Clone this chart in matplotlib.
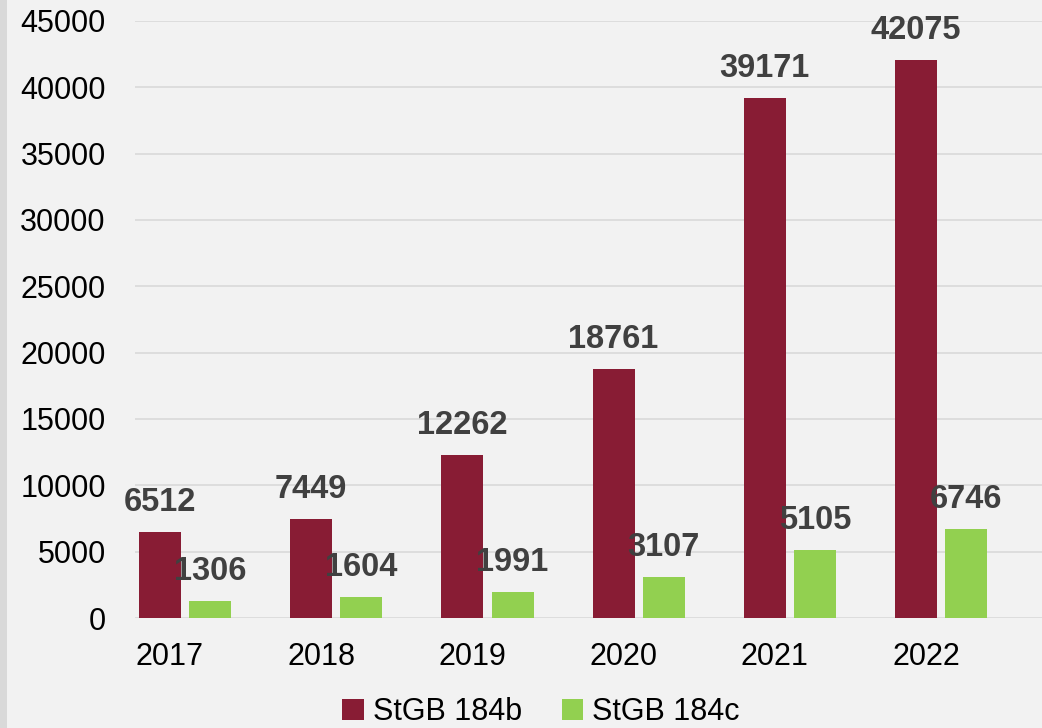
import numpy as np
import matplotlib.pyplot as plt
from matplotlib.patches import Rectangle

plt.rcParams['font.family'] = ['Liberation Sans', 'DejaVu Sans']

years = ['2017', '2018', '2019', '2020', '2021', '2022']
stgb_184b = [6512, 7449, 12262, 18761, 39171, 42075]
stgb_184c = [1306, 1604, 1991, 3107, 5105, 6746]
series_names = ['StGB 184b', 'StGB 184c']

maroon = '#881c34'
green = '#92d050'
bg = '#f2f2f2'

fig = plt.figure(figsize=(10.42, 7.28), dpi=100, facecolor=bg)
# grey strip along the left edge
fig.patches.append(Rectangle((0, 0), 7 / 1042, 1, transform=fig.transFigure,
                             facecolor='#d9d9d9', edgecolor='none', zorder=0))

ax = fig.add_axes([135 / 1042, 110 / 728, 1 - 135 / 1042, 597 / 728])
ax.set_facecolor(bg)

x = np.arange(len(years))
w = 0.278
off = 0.166
b1 = ax.bar(x - off, stgb_184b, w, color=maroon, label=series_names[0], zorder=2)
b2 = ax.bar(x + off, stgb_184c, w, color=green, label=series_names[1], zorder=2)

for bars in (b1, b2):
    for rect in bars:
        h = rect.get_height()
        ax.annotate(f'{int(h)}', (rect.get_x() + rect.get_width() / 2, h),
                    xytext=(0, 10), textcoords='offset points',
                    ha='center', va='bottom', fontsize=23.5, fontweight='bold',
                    color='#404040', zorder=3)

ax.set_ylim(0, 45000)
ax.set_yticks(np.arange(0, 45001, 5000))
ax.set_xlim(-0.331, 5.668)
ax.set_xticks(x - 0.1)
ax.set_xticklabels(years)
ax.tick_params(axis='both', length=0, labelsize=22, colors='black')
ax.tick_params(axis='y', pad=21)
ax.tick_params(axis='x', pad=17)
ax.grid(axis='y', color='#d9d9d9', linewidth=1.2, zorder=0)
for s in ax.spines.values():
    s.set_visible(False)

fig.legend(handles=[b1, b2], labels=series_names, loc='upper center',
           bbox_to_anchor=(541 / 1042, 31 / 728), ncol=2, frameon=False,
           fontsize=22, handlelength=0.7, handleheight=0.7, handletextpad=0.3,
           columnspacing=1.3, borderaxespad=0, borderpad=0)

fig.savefig('out.png', dpi=100, facecolor=bg)
